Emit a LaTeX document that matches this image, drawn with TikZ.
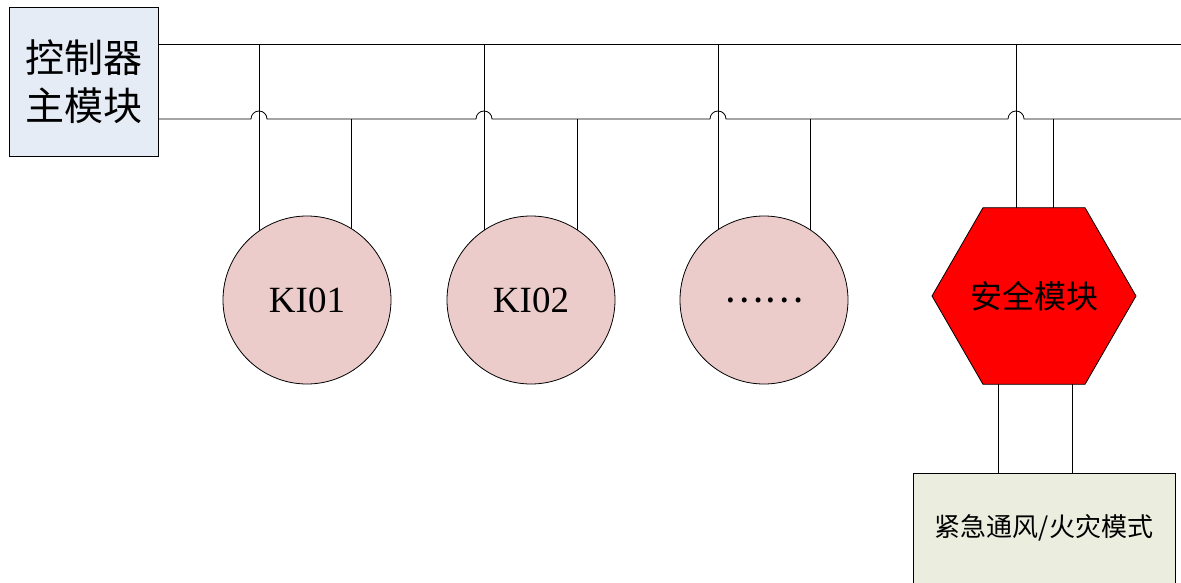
\documentclass[tikz,border=0pt]{standalone}
\usepackage{fontspec}
\setmainfont{Liberation Serif}
\newfontfamily\cjk{Noto Sans CJK SC}
\usetikzlibrary{shapes.geometric}
\definecolor{ctrlfill}{HTML}{E6ECF6}
\definecolor{kiofill}{HTML}{ECCCCB}
\definecolor{modefill}{HTML}{EBEEDF}
\tikzset{
  wire/.style={line width=0.8pt, black},
  ctrlbox/.style={draw, line width=0.8pt, fill=ctrlfill, minimum width=149pt, minimum height=149pt,
    inner sep=0pt, outer sep=0pt, align=center, font=\cjk\fontsize{39}{48}\selectfont},
  kio/.style={circle, draw, line width=0.8pt, fill=kiofill, minimum size=168pt, inner sep=0pt,
    outer sep=0pt, font=\fontsize{37}{40}\selectfont},
  safety/.style={regular polygon, regular polygon sides=6, draw, line width=0.8pt, fill=red,
    minimum size=204pt, inner sep=0pt, outer sep=0pt},
  safetytext/.style={font=\cjk\fontsize{32}{36}\selectfont},
  modebox/.style={draw, line width=0.8pt, fill=modefill, minimum width=262pt, minimum height=120pt,
    inner sep=0pt, outer sep=0pt},
  modetextstyle/.style={font=\cjk\fontsize{26}{30}\selectfont},
}
\begin{document}
\begin{tikzpicture}[x=1pt, y=-1pt]
\useasboundingbox (0,0) rectangle (1181,583);
% bus coordinates
\coordinate (busA0) at (158,44);
\coordinate (busAend) at (1181,44);
\coordinate (busB0) at (158,119);
\coordinate (busBend) at (1181,119);
% upper bus
\draw[wire] (busA0) -- (busAend);
% lower bus with jumps over the drops of the upper bus
\draw[wire] (busB0) -- (251,119) arc[start angle=180, end angle=0, radius=8pt]
  -- (476,119) arc[start angle=180, end angle=0, radius=8pt]
  -- (710,119) arc[start angle=180, end angle=0, radius=8pt]
  -- (1008,119) arc[start angle=180, end angle=0, radius=8pt]
  -- (busBend);
% drop points on the buses
\coordinate (a1) at (259,44);  \coordinate (b1) at (351,119);
\coordinate (a2) at (484,44);  \coordinate (b2) at (577,119);
\coordinate (a3) at (718,44);  \coordinate (b3) at (810,119);
\coordinate (a4) at (1016,44); \coordinate (b4) at (1053,119);
% drops (drawn to the centres; the filled shapes hide the inner parts)
\draw[wire] (a1) -- (259,300); \draw[wire] (b1) -- (351,300);
\draw[wire] (a2) -- (484,300); \draw[wire] (b2) -- (577,300);
\draw[wire] (a3) -- (718,300); \draw[wire] (b3) -- (810,300);
\draw[wire] (a4) -- (1016,297); \draw[wire] (b4) -- (1053,297);
% safety module to mode box
\draw[wire] (998,297) -- (998,500);
\draw[wire] (1072,297) -- (1072,500);
% nodes
\node[ctrlbox] (ctrl) at (83.5,81.5) {控制器\\主模块};
\node[kio] (k1) at (307,300) {KI01};
\node[kio] (k2) at (531,300) {KI02};
\node[kio] (k3) at (764,300) {\cjk ……};
\node[safety] (safe) at (1034,296) {};
\node[safetytext] (safetext) at (safe.center) {安全模块};
\node[modebox, anchor=north west] (mode) at (913,473) {};
\node[modetextstyle] (modetext) at (1044,528) {紧急通风/火灾模式};
\end{tikzpicture}
\end{document}
